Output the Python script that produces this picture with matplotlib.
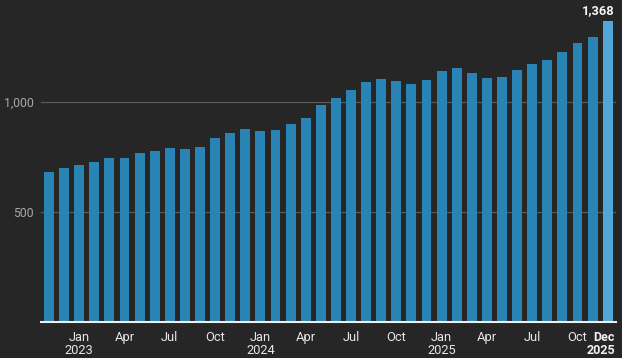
import matplotlib
matplotlib.use("Agg")
import matplotlib.pyplot as plt
import matplotlib.transforms as mtransforms

months = ["Nov 2022", "Dec 2022",
          "Jan 2023", "Feb 2023", "Mar 2023", "Apr 2023", "May 2023", "Jun 2023",
          "Jul 2023", "Aug 2023", "Sep 2023", "Oct 2023", "Nov 2023", "Dec 2023",
          "Jan 2024", "Feb 2024", "Mar 2024", "Apr 2024", "May 2024", "Jun 2024",
          "Jul 2024", "Aug 2024", "Sep 2024", "Oct 2024", "Nov 2024", "Dec 2024",
          "Jan 2025", "Feb 2025", "Mar 2025", "Apr 2025", "May 2025", "Jun 2025",
          "Jul 2025", "Aug 2025", "Sep 2025", "Oct 2025", "Nov 2025", "Dec 2025"]
values = [682, 700, 715, 727, 745, 745, 768, 777, 791, 786, 795, 836, 859, 877,
          868, 873, 900, 927, 986, 1018, 1056, 1091, 1105, 1095, 1082, 1100,
          1141, 1155, 1132, 1109, 1114, 1145, 1173, 1191, 1227, 1268, 1295, 1368]
tick_labels = {"Jan 2023": "Jan\n2023", "Apr 2023": "Apr", "Jul 2023": "Jul", "Oct 2023": "Oct",
               "Jan 2024": "Jan\n2024", "Apr 2024": "Apr", "Jul 2024": "Jul", "Oct 2024": "Oct",
               "Jan 2025": "Jan\n2025", "Apr 2025": "Apr", "Jul 2025": "Jul", "Oct 2025": "Oct"}
yticks = [500, 1000]
ytick_labels = ["500", "1,000"]

plt.rcParams['font.family'] = ['Roboto', 'DejaVu Sans']
BG = "#262626"
fig = plt.figure(figsize=(6.22, 3.58), dpi=100, facecolor=BG)
W, H = 622, 358
ax = fig.add_axes([41 / W, 36 / H, (616 - 41) / W, (322 - 0) / H])
ax.set_facecolor(BG)

x = list(range(len(values)))
colors = ["#2884b4"] * (len(values) - 1) + ["#52a7d9"]
ax.bar(x, values, width=0.66, color=colors, zorder=2)

ax.set_xlim(-0.53, 37.55)
ax.set_ylim(0, 1464)

for yv in yticks:
    ax.axhline(yv, color="#5a5a5a", lw=0.9, zorder=1)
ax.set_yticks(yticks)
ax.set_yticklabels(ytick_labels)
ax.tick_params(axis='y', length=0, pad=5, labelsize=8.8, labelcolor="#a8a8a8")

pos = [months.index(m) for m in tick_labels]
ax.set_xticks(pos)
ax.set_xticklabels(list(tick_labels.values()), linespacing=1.0)
ax.tick_params(axis='x', length=0, pad=6.5, labelsize=9.3, labelcolor="#e6e6e6")

for s in ["top", "right", "left"]:
    ax.spines[s].set_visible(False)
ax.spines["bottom"].set_color("#eeeeee")
ax.spines["bottom"].set_linewidth(1.5)
ax.spines["bottom"].set_zorder(3)

trans = mtransforms.blended_transform_factory(ax.transData, ax.transAxes)
last = len(values) - 1
ax.text(last + 0.47, -0.0275, "Dec\n2025", transform=trans, ha="right", va="top",
        fontsize=9.0, fontweight="bold", color="#f0f0f0", linespacing=1.0)

ax.text(last + 0.47, values[-1] + 16, f"{values[-1]:,}", ha="right", va="bottom",
        fontsize=9.3, fontweight="bold", color="#f5f5f5")

fig.savefig("out.png", dpi=100, facecolor=BG)
